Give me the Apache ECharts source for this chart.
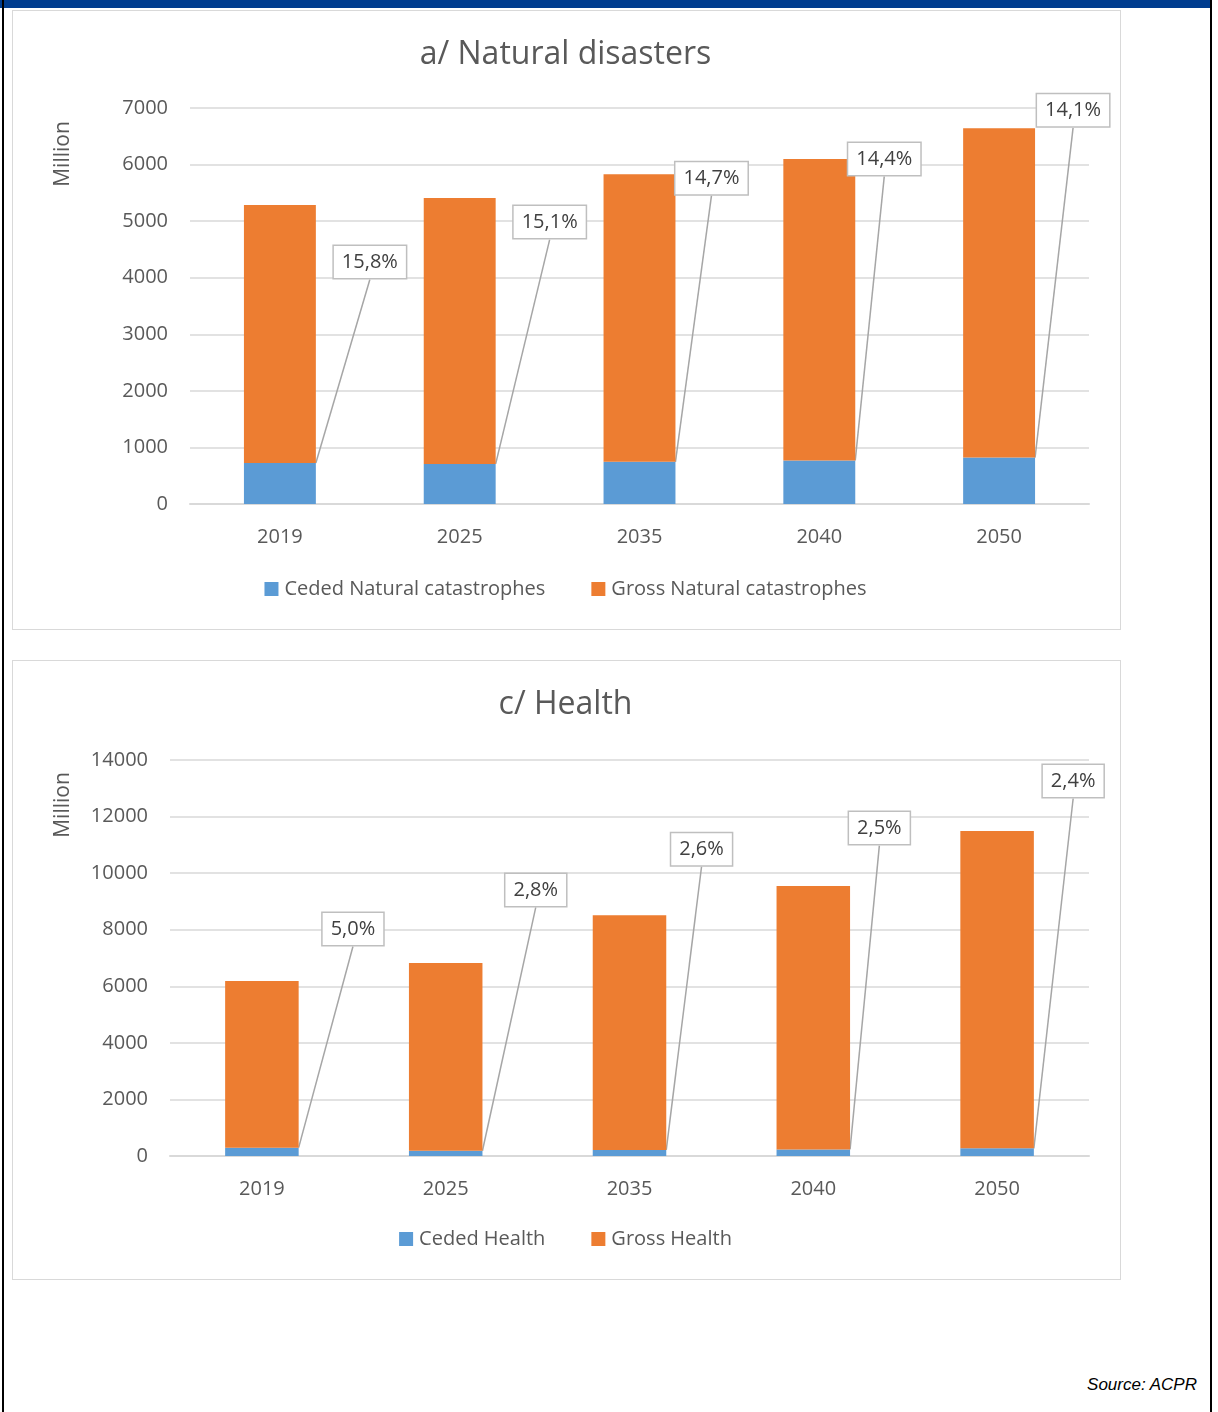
<!DOCTYPE html>
<html>
<head>
<meta charset="utf-8">
<script src="https://cdn.jsdelivr.net/npm/echarts@6/dist/echarts.min.js"></script>
<style>
  body { margin: 0; background: #fff; }
  #page { position: relative; width: 1218px; height: 1412px; overflow: hidden; }
  #band { position: absolute; left: 0; top: 0; width: 1212px; height: 8px; background: #003d8f; }
  #lineL { position: absolute; left: 2px; top: 0; width: 2px; height: 1412px; background: #000; }
  #lineR { position: absolute; left: 1210px; top: 0; width: 2px; height: 1412px; background: #000; }
  .box { position: absolute; left: 12px; width: 1107px; height: 618px; border: 1px solid #d9d9d9; background: #fff; }
  .box div.chart { width: 1105px; height: 616px; }
  #source { position: absolute; right: 21px; top: 1375px; font: italic 17px "Liberation Sans", Arial, sans-serif; color: #000; }
</style>
</head>
<body>
<div id="page">
  <div id="band"></div>
  <div id="lineL"></div>
  <div id="lineR"></div>
  <div class="box" style="top:10px"><div class="chart" id="chartA"></div></div>
  <div class="box" style="top:660px"><div class="chart" id="chartC"></div></div>
  <div id="source">Source: ACPR</div>
</div>
<script>
// chart data
var years = ['2019', '2025', '2035', '2040', '2050'];

var natCeded = [724, 708, 745, 770, 820];
var natGross = [4560, 4700, 5085, 5330, 5820];
var natRatio = ['15,8%', '15,1%', '14,7%', '14,4%', '14,1%'];

var healthCeded = [295, 185, 215, 232, 270];
var healthGross = [5890, 6640, 8300, 9310, 11220];
var healthRatio = ['5,0%', '2,8%', '2,6%', '2,5%', '2,4%'];

var FONT = '"Open Sans", "Noto Sans", sans-serif';
var TXT = '#595959';

function buildChart(el, opt) {
    var chart = echarts.init(document.getElementById(el));
    var ceded = opt.ceded, gross = opt.gross;

    chart.setOption({
        animation: false,
        textStyle: { fontFamily: FONT },
        title: {
            text: opt.title,
            left: 'center',
            top: opt.titleTop,
            textStyle: { fontFamily: FONT, fontSize: 32, fontWeight: 'normal', color: TXT }
        },
        legend: {
            bottom: 23,
            left: 'center',
            itemWidth: 14,
            itemHeight: 14,
            itemGap: 46,
            icon: 'rect',
            textStyle: { fontFamily: FONT, fontSize: 20, color: TXT, padding: [0, 0, 0, 1] },
            data: [opt.cededName, opt.grossName]
        },
        graphic: [{
            type: 'text',
            x: 50,
            y: opt.nameY,
            rotation: Math.PI / 2,
            style: {
                text: 'Million',
                font: '21px ' + FONT,
                fill: TXT,
                align: 'center',
                verticalAlign: 'middle'
            }
        }],
        grid: { left: opt.gridLeft, right: 29, top: opt.gridTop, bottom: opt.gridBottom },
        xAxis: {
            type: 'category',
            data: years,
            axisTick: { show: false },
            axisLine: { lineStyle: { color: '#d9d9d9', width: 2 } },
            axisLabel: { color: TXT, fontSize: 20, fontFamily: FONT, margin: 23 }
        },
        yAxis: {
            type: 'value',
            min: 0,
            max: opt.max,
            interval: opt.step,
            axisLine: { show: false },
            axisTick: { show: false },
            axisLabel: {
                color: TXT, fontSize: 20, fontFamily: FONT, margin: 22,
                formatter: function (v) { return String(v); }
            },
            splitLine: { lineStyle: { color: '#d9d9d9', width: 1.5 } }
        },
        series: [{
            name: opt.cededName,
            type: 'bar',
            stack: 'total',
            barWidth: '40%',
            data: ceded,
            itemStyle: { color: '#5b9bd5' },
            label: {
                show: true,
                formatter: function (p) { return opt.ratio[p.dataIndex]; },
                fontFamily: FONT,
                fontSize: 20,
                color: '#404040',
                backgroundColor: '#fff',
                borderColor: '#bfbfbf',
                borderWidth: 1.5,
                padding: [7, 8, 5, 8]
            },
            labelLine: {
                show: true,
                lineStyle: { color: '#a6a6a6', width: 1.5 }
            },
            labelLayout: function (p) {
                var i = p.dataIndex;
                var top = chart.convertToPixel({ seriesIndex: 1 }, [i, ceded[i] + gross[i]]);
                return {
                    x: p.rect.x + p.rect.width + opt.labelDx[i],
                    y: top[1] + opt.labelDy[i],
                    align: 'left',
                    verticalAlign: 'middle'
                };
            }
        }, {
            name: opt.grossName,
            type: 'bar',
            stack: 'total',
            barWidth: '40%',
            data: gross,
            itemStyle: { color: '#ed7d31' }
        }]
    });
    return chart;
}

buildChart('chartA', {
    title: 'a/ Natural disasters',
    titleTop: 23,
    nameY: 143,
    gridLeft: 177,
    gridTop: 97,
    gridBottom: 123,
    max: 7000,
    step: 1000,
    ceded: natCeded,
    gross: natGross,
    ratio: natRatio,
    labelDx: [18, 18, 0, -7, 2],
    labelDy: [57, 24, 4, 0, -18],
    cededName: 'Ceded Natural catastrophes',
    grossName: 'Gross Natural catastrophes'
});

buildChart('chartC', {
    title: 'c/ Health',
    titleTop: 23,
    nameY: 144,
    gridLeft: 157,
    gridTop: 99,
    gridBottom: 121,
    max: 14000,
    step: 2000,
    ceded: healthCeded,
    gross: healthGross,
    ratio: healthRatio,
    labelDx: [24, 23, 5, -1, 9],
    labelDy: [-52, -73, -66, -58, -50],
    cededName: 'Ceded Health',
    grossName: 'Gross Health'
});
</script>
</body>
</html>
